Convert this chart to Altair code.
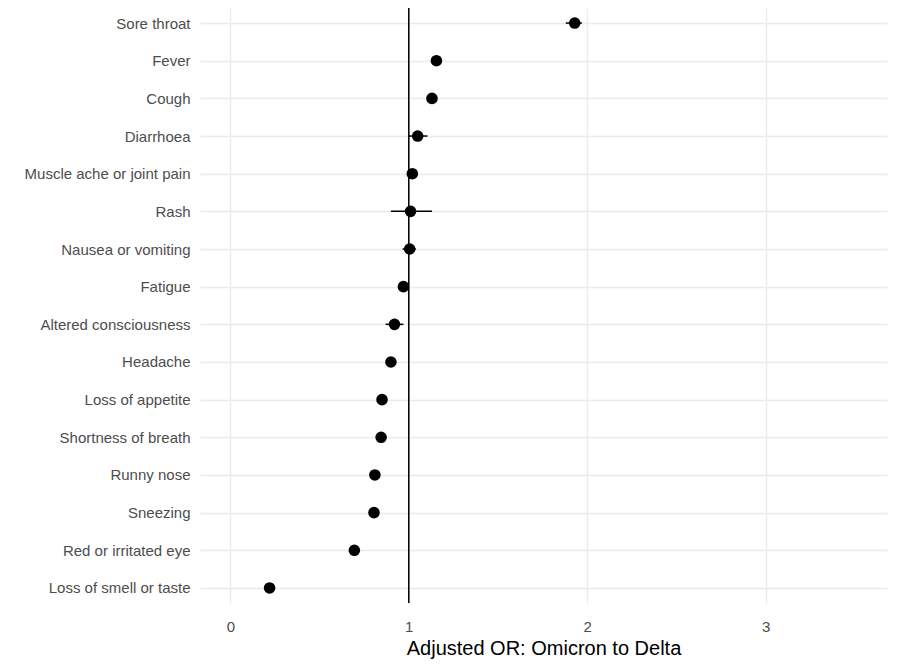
import altair as alt
import pandas as pd

symptoms = ["Sore throat", "Fever", "Cough", "Diarrhoea", "Muscle ache or joint pain",
            "Rash", "Nausea or vomiting", "Fatigue", "Altered consciousness", "Headache",
            "Loss of appetite", "Shortness of breath", "Runny nose", "Sneezing",
            "Red or irritated eye", "Loss of smell or taste"]
odds_ratio = [1.93, 1.155, 1.13, 1.05, 1.02, 1.01, 1.005, 0.97, 0.92, 0.90,
              0.85, 0.845, 0.81, 0.805, 0.695, 0.22]
ci_low = [1.88, 1.135, 1.11, 1.00, 1.00, 0.90, 0.965, 0.955, 0.87, 0.885,
          0.835, 0.83, 0.795, 0.79, 0.68, 0.205]
ci_high = [1.97, 1.175, 1.15, 1.105, 1.04, 1.13, 1.04, 0.985, 0.97, 0.915,
           0.865, 0.86, 0.825, 0.82, 0.71, 0.235]
x_ticks = [0, 1, 2, 3]
ref_value = [1]

df = pd.DataFrame({"symptom": symptoms, "or": odds_ratio, "lo": ci_low, "hi": ci_high})
ref = pd.DataFrame({"v": ref_value})

xscale = alt.Scale(domain=[-0.17, 3.68], nice=False, zero=False)
yscale = alt.Scale(type="point", domain=symptoms, padding=0.4)

x_axis = alt.Axis(values=x_ticks, format="d", ticks=False, domain=False,
                  grid=True, gridColor="#ebebeb", gridWidth=1.3,
                  labelFont="Liberation Sans", labelFontSize=15, labelColor="#4d4d4d",
                  labelPadding=16, title="Adjusted OR: Omicron to Delta",
                  titleFont="Liberation Sans", titleFontSize=20, titleFontWeight="normal",
                  titleColor="#000000", titlePadding=4)
y_axis = alt.Axis(title=None, ticks=False, domain=False, grid=True,
                  gridColor="#ebebeb", gridWidth=1.3,
                  labelFont="Liberation Sans", labelFontSize=15, labelColor="#4d4d4d",
                  labelPadding=10)

base = alt.Chart(df)

bars = base.mark_rule(color="black", strokeWidth=1.5).encode(
    x=alt.X("lo:Q", scale=xscale, axis=x_axis),
    x2="hi:Q",
    y=alt.Y("symptom:N", scale=yscale, axis=y_axis, sort=symptoms),
)

vline = alt.Chart(ref).mark_rule(color="black", strokeWidth=1.5).encode(
    x=alt.X("v:Q", scale=xscale),
)

points = base.mark_circle(color="black", opacity=1, size=135).encode(
    x=alt.X("or:Q", scale=xscale),
    y=alt.Y("symptom:N", scale=yscale, sort=symptoms),
)

chart = alt.layer(bars, vline, points).properties(
    width=687, height=595,
    autosize=alt.AutoSizeParams(type="none"),
    padding={"left": 192, "top": 0, "right": 2, "bottom": 60},
).configure_view(stroke=None)

chart.save("out.html", embed_options={"renderer": "svg", "actions": False})
